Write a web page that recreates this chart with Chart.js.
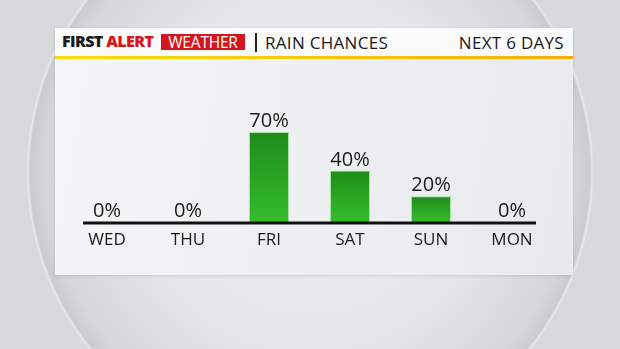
<!DOCTYPE html>
<html>
<head>
<meta charset="utf-8">
<script src="https://cdn.jsdelivr.net/npm/chart.js@4/dist/chart.umd.min.js"></script>
<style>
  html, body { margin: 0; padding: 0; }
  body {
    width: 620px; height: 349px; overflow: hidden; position: relative;
    font-family: "Open Sans", sans-serif;
    background: radial-gradient(circle 284px at 310px 172px, #eef0f1 0%, #e4e7e8 62%, #d3d7d8 93%, #c9cdce 98.5%, #e6e8e9 99.3%, #d7dadb 100%);
  }
  #panel {
    position: absolute; left: 55px; top: 28px; width: 518px; height: 247px;
    box-shadow: 0 1px 3px rgba(0,0,0,0.12);
  }
  #header {
    position: absolute; left: 0; top: 0; width: 518px; height: 28px;
    background: #fbfbfb;
  }
  #stripe {
    position: absolute; left: 0; top: 28px; width: 518px; height: 3px;
    background: linear-gradient(to right, #f7dc0c, #f6c30a 60%, #f5ad08);
    box-shadow: 0 1px 2px rgba(0,0,0,0.08);
  }
  #body {
    position: absolute; left: 0; top: 31px; width: 518px; height: 216px;
    background: linear-gradient(100deg, #f4f5f6, #eceef0 60%, #e8ebed);
  }
  .hd { position: absolute; white-space: nowrap; color: #1a1a1a; line-height: 1; }
  #logo { left: 7px; top: 5px; font-size: 16px; font-weight: 800; letter-spacing: -0.6px; }
  #logo .red { color: #d5141c; }
  #wx {
    position: absolute; left: 106px; top: 6px; width: 84px; height: 16px;
    background: #d4161e; color: #fff; font-size: 15.5px; line-height: 16px;
    text-align: center; letter-spacing: -0.2px;
  }
  #sep { position: absolute; left: 200px; top: 5px; width: 2px; height: 19px; background: #222; }
  #title { left: 210px; top: 6px; font-size: 17px; letter-spacing: 0.3px; }
  #next { right: 9px; top: 6px; font-size: 17px; letter-spacing: 0.3px; }
  canvas { position: absolute; left: 0; top: 0; }
</style>
</head>
<body>
<div id="panel">
  <div id="header">
    <div class="hd" id="logo">FIRST <span class="red">ALERT</span></div>
    <div id="wx">WEATHER</div>
    <div id="sep"></div>
    <div class="hd" id="title">RAIN CHANCES</div>
    <div class="hd" id="next">NEXT 6 DAYS</div>
  </div>
  <div id="stripe"></div>
  <div id="body">
    <canvas id="rain-chart" width="518" height="216"></canvas>
  </div>
</div>
<script>
// data
const days = ["WED", "THU", "FRI", "SAT", "SUN", "MON"]
const rainChance = [0, 0, 70, 40, 20, 0]
const chanceLabels = ["0%", "0%", "70%", "40%", "20%", "0%"]

function barFill(c) {
  const chart = c.chart
  if (!chart.chartArea || c.raw === undefined) return "#2aa323"
  const y = chart.scales.y
  const top = y.getPixelForValue(c.raw)
  const bottom = y.getPixelForValue(0)
  if (bottom - top < 1) return "#2aa323"
  const g = chart.ctx.createLinearGradient(0, top, 0, bottom)
  g.addColorStop(0, "#1f8c19")
  g.addColorStop(1, "#35bd2d")
  return g
}

// baseline + percent labels
const extras = {
  id: "extras",
  afterDatasetsDraw(chart) {
    const ctx = chart.ctx
    const x = chart.scales.x
    const y = chart.scales.y
    const base = y.getPixelForValue(0)
    ctx.save()
    ctx.fillStyle = "#111"
    const left = x.getPixelForValue(0) - 24
    const right = x.getPixelForValue(days.length - 1) + 24
    ctx.fillRect(left, base - 0.5, right - left, 3)

    ctx.font = "500 20px 'Open Sans'"
    ctx.fillStyle = "#1a1a1a"
    ctx.textAlign = "center"
    ctx.textBaseline = "alphabetic"
    chart.getDatasetMeta(0).data.forEach((bar, i) => {
      ctx.fillText(chanceLabels[i], bar.x, bar.y - 5)
    })
    ctx.restore()
  }
}

const rainChart = new Chart(document.getElementById("rain-chart"), {
  type: "bar",
  data: {
    labels: days,
    datasets: [{
      data: rainChance,
      backgroundColor: barFill,
      borderColor: "rgba(110, 215, 100, 0.55)",
      borderWidth: 1,
      borderSkipped: "bottom",
      barPercentage: 40 / 81,
      categoryPercentage: 1
    }]
  },
  options: {
    responsive: false,
    animation: false,
    devicePixelRatio: 1,
    layout: { padding: { left: 11.5, right: 20.5, top: 34.4, bottom: 16.6 } },
    plugins: { legend: { display: false }, tooltip: { enabled: false } },
    scales: {
      x: {
        grid: { display: false, drawTicks: false },
        border: { display: false },
        ticks: {
          padding: 8,
          color: "#1a1a1a",
          font: { family: "'Open Sans'", size: 17, weight: 500 }
        }
      },
      y: { display: false, min: 0, max: 100 }
    }
  },
  plugins: [extras]
})
</script>
</body>
</html>
